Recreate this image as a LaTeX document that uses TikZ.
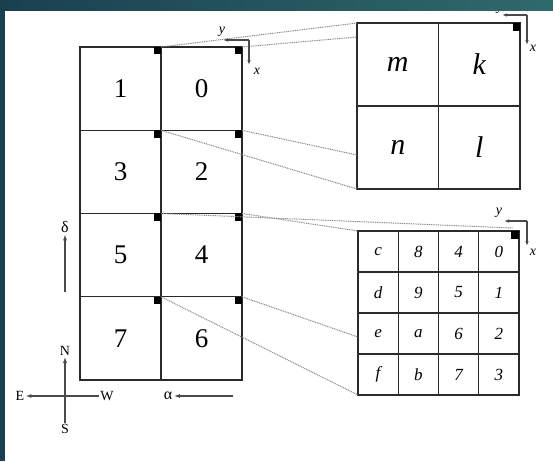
\documentclass[tikz,border=0pt]{standalone}
\usepackage{fontspec}
\setmainfont{Liberation Serif}
\usetikzlibrary{arrows.meta}
\definecolor{bandL}{HTML}{1A4050}
\definecolor{bandR}{HTML}{2F6A6C}
\definecolor{gridc}{HTML}{2A2A2A}
\definecolor{dotc}{HTML}{8A8A8A}
\definecolor{axc}{HTML}{4A4A4A}
\begin{document}
\begin{tikzpicture}[x=1pt,y=-1pt,
  bigcell/.style={draw=gridc,line width=1.1pt,minimum width=81pt,minimum height=83.25pt,inner sep=0pt,outer sep=0pt,font=\fontsize{27}{27}\selectfont},
  zoomcell/.style={draw=gridc,line width=1.1pt,minimum width=81.5pt,minimum height=83pt,inner sep=0pt,outer sep=0pt,font=\fontsize{30}{30}\selectfont\itshape},
  smallcell/.style={draw=gridc,line width=1.1pt,minimum width=40.25pt,minimum height=41pt,inner sep=0pt,outer sep=0pt,font=\fontsize{17}{17}\selectfont\itshape},
  blk/.style={fill=black,minimum size=7.5pt,inner sep=0pt,outer sep=0pt},
  proj/.style={draw=dotc,line width=1pt,dash pattern=on 1pt off 0.8pt},
  axarrow/.style={draw=axc,line width=1.1pt,-{Latex[length=5pt,width=3.5pt]}},
  dirarrow/.style={draw=axc,line width=1.1pt,-{Latex[length=6pt,width=4pt]}},
  axlab/.style={font=\fontsize{14}{14}\selectfont\itshape,inner sep=0.5pt},
  cmp/.style={font=\fontsize{14}{14}\selectfont,inner sep=1pt},
  greek/.style={font=\fontsize{16}{16}\selectfont,inner sep=1.5pt}
]
\useasboundingbox (0,0) rectangle (553,461);
\fill[white] (0,0) rectangle (553,461);

% left grid
\node[bigcell] (c1) at (120.5,88.6) {1};
\node[bigcell] (c0) at (201.5,88.6) {0};
\node[bigcell] (c3) at (120.5,171.9) {3};
\node[bigcell] (c2) at (201.5,171.9) {2};
\node[bigcell] (c5) at (120.5,255.1) {5};
\node[bigcell] (c4) at (201.5,255.1) {4};
\node[bigcell] (c7) at (120.5,338.4) {7};
\node[bigcell] (c6) at (201.5,338.4) {6};
\foreach \c in {0,...,7}{
  \node[blk,anchor=north east] (b\c) at (c\c.north east) {};
}

% top-right zoom box
\node[zoomcell] (zm) at (397.75,64.5) {m};
\node[zoomcell] (zk) at (479.25,64.5) {k};
\node[zoomcell] (zn) at (397.75,147.5) {n};
\node[zoomcell] (zl) at (479.25,147.5) {l};
\node[blk,anchor=north east] (bz) at (zk.north east) {};

% bottom-right 4x4 grid
\foreach \t [count=\i from 0] in {c,8,4,0,d,9,5,1,e,a,6,2,f,b,7,3}{
  \pgfmathtruncatemacro{\col}{mod(\i,4)}
  \pgfmathtruncatemacro{\row}{div(\i,4)}
  \node[smallcell] (s\i) at ({378.1+40.25*\col},{251.5+41*\row}) {\t};
}
\node[blk,anchor=north east] (bs) at (s3.north east) {};

% projection lines
\coordinate (pA) at (357,37);
\coordinate (pB) at (357,155);
\coordinate (pC) at (513,228);
\coordinate (pD) at (358,337);
\draw[proj] (c0.north west) -- (zm.north west);
\draw[proj] (c0.north east) -- (pA);
\draw[proj] (c2.north east) -- (pB);
\draw[proj] (c2.north west) -- (zn.south west);
\draw[proj] (c4.north west) -- (pC);
\draw[proj] (c4.north east) -- (s0.north west);
\draw[proj] (c6.north east) -- (pD);
\draw[proj] (c6.north west) -- (s12.south west);

% axes: left grid
\coordinate (la) at (249,40);
\coordinate (laY) at (223,40);
\coordinate (laX) at (249,65);
\draw[axarrow] (la) -- (laY);
\draw[axarrow] (la) -- (laX);
\node[axlab] (lay) at (222,32) {y};
\node[axlab] (lax) at (257,71) {x};

% axes: top box
\coordinate (ta) at (527,15);
\coordinate (taY) at (502,15);
\coordinate (taX) at (527,45);
\draw[axarrow] (ta) -- (taY);
\draw[axarrow] (ta) -- (taX);
\node[axlab] (tay) at (500,9) {y};
\node[axlab] (tax) at (533,48) {x};

% axes: bottom grid
\coordinate (sa) at (527,221);
\coordinate (saY) at (504,221);
\coordinate (saX) at (527,246);
\draw[axarrow] (sa) -- (saY);
\draw[axarrow] (sa) -- (saX);
\node[axlab] (say) at (499,213) {y};
\node[axlab] (sax) at (533,252) {x};

% delta arrow
\node[greek] (dl) at (65,227) {δ};
\coordinate (dB) at (65,292);
\draw[dirarrow] (dB) -- (dl);

% alpha arrow
\node[greek] (al) at (168,396) {α};
\coordinate (aR) at (233,396);
\draw[dirarrow] (aR) -- (al);

% compass
\node[cmp] (N) at (65,351) {N};
\node[cmp] (S) at (65,429) {S};
\node[cmp] (E) at (20,396) {E};
\node[cmp] (W) at (107,396) {W};
\draw[dirarrow] (S) -- (N);
\draw[dirarrow] (W) -- (E);

% teal band
\shade[left color=bandL,right color=bandR] (0,0) rectangle (553,10);
\fill[bandL] (0,0) rectangle (5,461);
\end{tikzpicture}
\end{document}
